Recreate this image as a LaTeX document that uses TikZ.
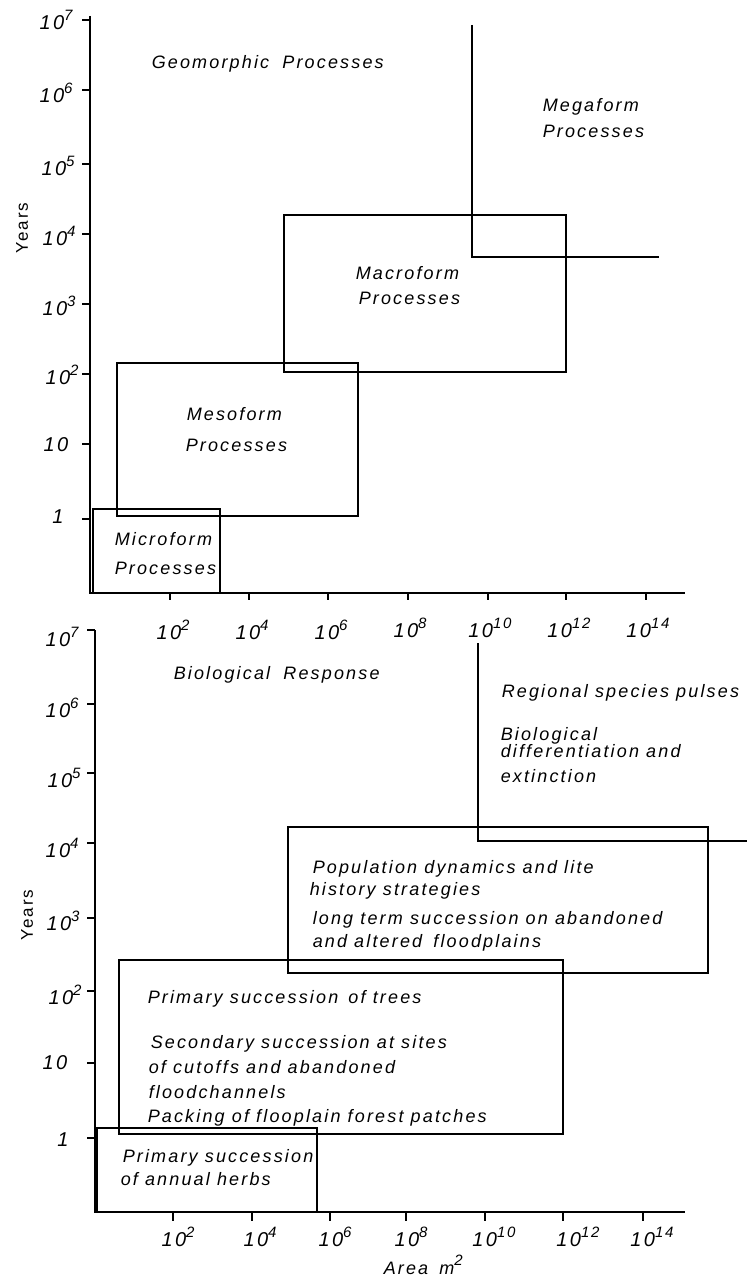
\documentclass[tikz,border=0pt]{standalone}
\usepackage{fontspec}
\setmainfont{Liberation Sans}[LetterSpace=12]
\newcommand{\mysup}[1]{\raisebox{0.45em}{\fontsize{15}{15}\selectfont #1}}
\begin{document}
\begin{tikzpicture}[x=1pt,y=-1pt,line width=1.5pt,
  lbl/.style={anchor=base west,inner sep=0pt,font=\fontsize{18}{21}\selectfont\itshape},
  tlab/.style={inner sep=0pt,font=\fontsize{20}{23}\selectfont\itshape},
  axis/.style={line width=1.6pt},
  box/.style={line width=1.5pt}]
\useasboundingbox (0,0) rectangle (747,1279);

% ================= TOP PANEL =================
\coordinate (ta0) at (90,16);
\coordinate (ta1) at (90,593);
\coordinate (ta2) at (685,593);
\draw[axis] (ta0) -- (ta1) -- (ta2);
\foreach \y in {20,90,164,234,304,374,444,519}
  \draw[axis] (82,\y) -- (90,\y);
\foreach \x in {170,249,328,408,488,566,646}
  \draw[axis] (\x,593) -- (\x,600);

\node[tlab] (ty7) at (56,20) {10\mysup{7}};
\node[tlab] (ty6) at (56,93) {10\mysup{6}};
\node[tlab] (ty5) at (58,166) {10\mysup{5}};
\node[tlab] (ty4) at (59,236) {10\mysup{4}};
\node[tlab] (ty3) at (59,306) {10\mysup{3}};
\node[tlab] (ty2) at (62,375) {10\mysup{2}};
\node[tlab] (ty1) at (56,445) {10};
\node[tlab] (ty0) at (58,517) {1};

\node[tlab] (tx2) at (173,630) {10\mysup{2}};
\node[tlab] (tx4) at (252,630) {10\mysup{4}};
\node[tlab] (tx6) at (331,630) {10\mysup{6}};
\node[tlab] (tx8) at (410,628) {10\mysup{8}};
\node[tlab] (tx10) at (490,628) {10\mysup{10}};
\node[tlab] (tx12) at (569,628) {10\mysup{12}};
\node[tlab] (tx14) at (648,628) {10\mysup{14}};

\node[inner sep=0pt,rotate=90,font=\fontsize{17}{20}\selectfont] (tyears) at (22,228) {Years};

% boxes
\draw[box] (93,509) rectangle (220,593);
\draw[box] (117,363) rectangle (358,516);
\draw[box] (284,215) rectangle (566,372);
\coordinate (mg0) at (472,25);
\coordinate (mg1) at (472,257);
\coordinate (mg2) at (659,257);
\draw[box] (mg0) -- (mg1) -- (mg2);

\node[lbl] (geo) at (151,69) {Geomorphic\hspace{6pt} Processes};
\node[lbl] (mega1) at (542,112) {Megaform};
\node[lbl] (mega2) at (542,138) {Processes};
\node[lbl] (macro1) at (355,279) {Macroform};
\node[lbl] (macro2) at (358,304) {Processes};
\node[lbl] (meso1) at (186,420) {Mesoform};
\node[lbl] (meso2) at (185,451) {Processes};
\node[lbl] (micro1) at (114,545) {Microform};
\node[lbl] (micro2) at (114,574) {Processes};

% ================= BOTTOM PANEL =================
\coordinate (ba0) at (95,630);
\coordinate (ba1) at (95,1212);
\coordinate (ba2) at (685,1212);
\draw[axis] (ba0) -- (ba1) -- (ba2);
\foreach \y in {630,704,773,843,918,991,1063,1138}
  \draw[axis] (87,\y) -- (95,\y);
\foreach \x in {173,252,330,406,485,563,643}
  \draw[axis] (\x,1212) -- (\x,1221);

\node[tlab] (by7) at (62,637) {10\mysup{7}};
\node[tlab] (by6) at (62,708) {10\mysup{6}};
\node[tlab] (by5) at (64,778) {10\mysup{5}};
\node[tlab] (by4) at (62,848) {10\mysup{4}};
\node[tlab] (by3) at (63,921) {10\mysup{3}};
\node[tlab] (by2) at (65,995) {10\mysup{2}};
\node[tlab] (by1) at (55,1063) {10};
\node[tlab] (by0) at (63,1140) {1};

\node[tlab] (bx2) at (178,1237) {10\mysup{2}};
\node[tlab] (bx4) at (260,1237) {10\mysup{4}};
\node[tlab] (bx6) at (335,1237) {10\mysup{6}};
\node[tlab] (bx8) at (411,1237) {10\mysup{8}};
\node[tlab] (bx10) at (494,1237) {10\mysup{10}};
\node[tlab] (bx12) at (578,1237) {10\mysup{12}};
\node[tlab] (bx14) at (652,1237) {10\mysup{14}};

\node[inner sep=0pt,rotate=90,font=\fontsize{17}{20}\selectfont] (byears) at (27,915) {Years};
\node[lbl] (area) at (383,1274) {Area\hspace{4pt} m\mysup{2}};

% boxes
\draw[box] (97,1128) rectangle (317,1212);
\draw[box] (119,960) rectangle (563,1134);
\draw[box] (288,827) rectangle (708,973);
\coordinate (rg0) at (478,643);
\coordinate (rg1) at (478,841);
\coordinate (rg2) at (747,841);
\draw[box] (rg0) -- (rg1) -- (rg2);

\node[lbl] (bio) at (173,679) {Biological\hspace{6pt} Response};
\node[lbl] (reg) at (501,697) {Regional species pulses};
\node[lbl] (dif1) at (500,740) {Biological};
\node[lbl] (dif2) at (500,757) {differentiation and};
\node[lbl] (dif3) at (500,782) {extinction};
\node[lbl] (pop1) at (312,873) {Population dynamics and lite};
\node[lbl] (pop2) at (309,895) {history strategies};
\node[lbl] (pop3) at (312,924) {long term succession on abandoned};
\node[lbl] (pop4) at (312,947) {and altered\hspace{4pt} floodplains};
\node[lbl] (tr1) at (147,1003) {Primary succession\hspace{3pt} of trees};
\node[lbl] (tr2) at (150,1048) {Secondary succession at sites};
\node[lbl] (tr3) at (148,1073) {of cutoffs and abandoned};
\node[lbl] (tr4) at (148,1098) {floodchannels};
\node[lbl] (tr5) at (147,1122) {Packing of flooplain forest patches};
\node[lbl] (hb1) at (122,1162) {Primary succession};
\node[lbl] (hb2) at (120,1185) {of annual herbs};
\end{tikzpicture}
\end{document}
